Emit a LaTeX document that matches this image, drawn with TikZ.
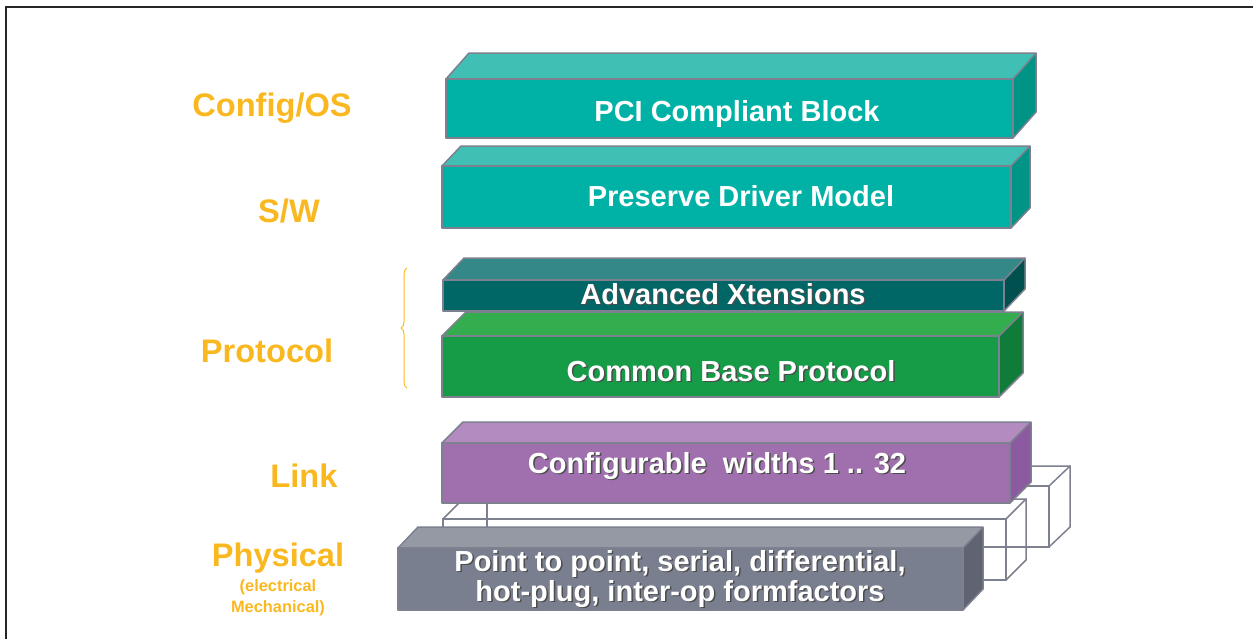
\documentclass[tikz,border=0pt]{standalone}
\usepackage{fontspec}
\setmainfont{Liberation Sans}
\usepackage{xcolor}
\usepackage{tikz}
\usetikzlibrary{decorations.pathreplacing}
\definecolor{layerOrange}{RGB}{250,184,32}
\definecolor{edgeGray}{RGB}{125,128,142}
\definecolor{tealFront}{RGB}{0,178,165}
\definecolor{tealTop}{RGB}{64,191,180}
\definecolor{tealSide}{RGB}{0,148,134}
\definecolor{xtFront}{RGB}{0,102,102}
\definecolor{xtTop}{RGB}{52,136,136}
\definecolor{xtSide}{RGB}{0,80,80}
\definecolor{cbpFront}{RGB}{22,156,71}
\definecolor{cbpTop}{RGB}{52,173,79}
\definecolor{cbpSide}{RGB}{16,124,58}
\definecolor{linkFront}{RGB}{160,112,174}
\definecolor{linkTop}{RGB}{180,139,192}
\definecolor{linkSide}{RGB}{140,90,160}
\definecolor{physFront}{RGB}{122,127,143}
\definecolor{physTop}{RGB}{149,153,164}
\definecolor{physSide}{RGB}{95,99,114}
\tikzset{
  slabedge/.style={draw=edgeGray, line width=0.75pt, line join=round},
  wire/.style={draw=edgeGray, line width=0.75pt},
  boxtext/.style={anchor=base, inner sep=0pt, text=white, font=\bfseries\fontsize{14.5}{16}\selectfont},
  shadowtext/.style={boxtext, text=black!70},
  layerlabel/.style={anchor=base, inner sep=0pt, text=layerOrange, font=\bfseries\fontsize{16.3}{18}\selectfont},
  sublabel/.style={layerlabel, font=\bfseries\fontsize{8.2}{9}\selectfont},
  frameline/.style={draw=black!85, line width=1pt}
}
% #1=colour prefix, #2/#3=front top-left, #4/#5=front bottom-right, #6/#7=depth
\newcommand{\Slab}[7]{%
  \path[fill=#1Front] (#2,#3) rectangle (#4,#5);
  \path[fill=#1Top] (#2,#3) -- ({#2+#6},{#3+#7}) -- ({#4+#6},{#3+#7}) -- (#4,#3) -- cycle;
  \path[fill=#1Side] (#4,#3) -- ({#4+#6},{#3+#7}) -- ({#4+#6},{#5+#7}) -- (#4,#5) -- cycle;
  \draw[slabedge] (#2,#3) rectangle (#4,#5);
  \draw[slabedge] (#2,#3) -- ({#2+#6},{#3+#7}) -- ({#4+#6},{#3+#7}) -- ({#4+#6},{#5+#7}) -- (#4,#5);
  \draw[slabedge] (#4,#3) -- ({#4+#6},{#3+#7});
}
% open outline of a lane box, same arguments without colour
\newcommand{\WireBox}[6]{%
  \draw[wire] (#1,#2) rectangle (#3,#4);
  \draw[wire] (#1,#2) -- ({#1+#5},{#2+#6}) -- ({#3+#5},{#2+#6}) -- ({#3+#5},{#4+#6}) -- (#3,#4);
  \draw[wire] (#3,#2) -- ({#3+#5},{#2+#6});
}
% #1=name, #2/#3=base point, #4=text
\newcommand{\ShadowText}[4]{%
  \node[shadowtext] (#1-sh) at ({#2+1.5},{#3+1.5}) {#4};
  \node[boxtext] (#1) at (#2,#3) {#4};
}

\begin{document}
\begin{tikzpicture}[x=0.5pt, y=-0.5pt]
  \useasboundingbox (0,0) rectangle (1253,639);
  \draw[frameline] (6,639) -- (6,7) -- (1253,7);

  % --- layer names ---
  \node[layerlabel] (cfgos) at (272,116) {Config/OS};
  \node[layerlabel] (sw) at (289,222) {S/W};
  \node[layerlabel] (proto) at (267,362) {Protocol};
  \node[layerlabel] (link) at (304,487) {Link};
  \node[layerlabel] (phys) at (278,566) {Physical};
  \node[sublabel] (elec) at (278,591) {(electrical};
  \node[sublabel] (mech) at (278,612) {Mechanical)};
  \draw[layerOrange, line width=0.5pt, decorate, decoration={brace, amplitude=3pt}]
    (407,388) -- (407,268);

  % --- lanes behind the link ---
  \WireBox{487}{486}{1049}{547}{21}{-20}
  \WireBox{443}{519}{1006}{580}{20}{-20}

  % --- stack ---
  \Slab{teal}{446}{79}{1013}{138}{23}{-26}
  \Slab{teal}{442}{166}{1011}{228}{19}{-20}
  \Slab{xt}{443}{280}{1004}{311}{21}{-22}
  \Slab{cbp}{442}{336}{999}{397}{24}{-24}
  \Slab{link}{442}{443}{1010}{503}{21}{-21}
  \Slab{phys}{398}{548}{963}{610}{20}{-21}

  \node[boxtext] (pci) at (737,121) {PCI Compliant Block};
  \node[boxtext] (driver) at (741,206) {Preserve Driver Model};
  \ShadowText{xt}{723}{304}{Advanced Xtensions}
  \ShadowText{cbp}{731}{381}{Common Base Protocol}
  \ShadowText{widths}{717}{473}{Configurable\ \ widths 1 .. 32}
  \ShadowText{ptp}{680}{571}{Point to point, serial, differential,}
  \ShadowText{hotplug}{680}{601}{hot-plug, inter-op formfactors}
\end{tikzpicture}
\end{document}
